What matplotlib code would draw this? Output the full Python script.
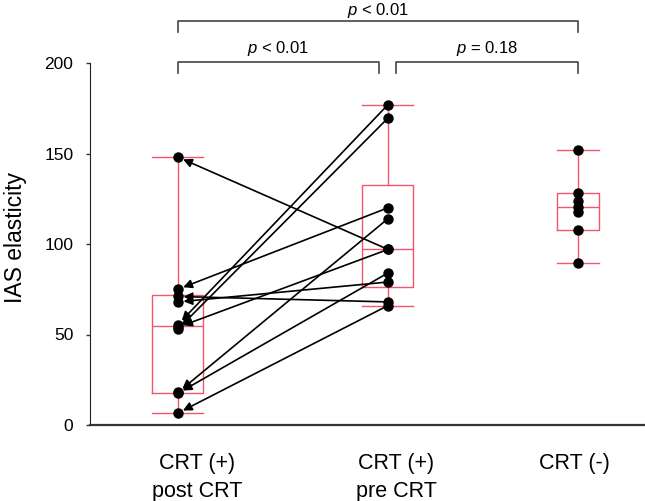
import numpy as np
import matplotlib
matplotlib.use('Agg')
import matplotlib.pyplot as plt

plt.rcParams['font.family'] = ['Liberation Sans', 'DejaVu Sans']
plt.rcParams['mathtext.fontset'] = 'custom'
plt.rcParams['mathtext.rm'] = 'Liberation Sans'
plt.rcParams['mathtext.it'] = 'Liberation Sans:italic'

# data
categories = ['CRT (+)\npost CRT', 'CRT (+)\npre CRT', 'CRT (-)']
pre_crt = [177, 169.6, 120, 114, 97, 97, 84, 79, 68, 66]
post_crt = [55.5, 53, 75, 18, 148, 54, 17.5, 68, 71, 6.6]
crt_neg = [152, 128, 124, 120.5, 117.5, 108, 89.5]
p_labels = ['$p$ < 0.01', '$p$ = 0.18', '$p$ < 0.01']

groups = [post_crt, pre_crt, crt_neg]
positions = [1.0, 2.0, 2.905]
label_pos = [1.09, 2.038, 2.89]
widths = [0.243, 0.243, 0.2]
box_col = '#f2566e'

fig = plt.figure(figsize=(6.45, 5.01), dpi=100)
ax = fig.add_axes([90 / 645, 76 / 501, 555 / 645, 362 / 501])

# box stats (quartiles like the original software)
stats = []
for g in groups:
    q1, med, q3 = np.percentile(g, [25, 50, 75], method='weibull')
    stats.append(dict(med=med, q1=q1, q3=q3, whislo=min(g), whishi=max(g), fliers=[]))

lp = dict(color=box_col, linewidth=1)
ax.bxp(stats, positions=positions, widths=widths, capwidths=widths,
       showfliers=False, boxprops=lp, whiskerprops=lp, capprops=lp,
       medianprops=lp, manage_ticks=False)

# paired arrows pre -> post
for a, b in zip(pre_crt, post_crt):
    ax.annotate('', xy=(positions[0], b), xytext=(positions[1], a),
                arrowprops=dict(arrowstyle='-|>', color='black', lw=1.2,
                                shrinkA=0, shrinkB=4, mutation_scale=13))

for pos, g in zip(positions, groups):
    ax.plot(np.full(len(g), pos), g, 'o', color='black', ms=6.5, zorder=5)

ax.set_xlim(0.581, 3.224)
ax.set_ylim(0, 200)
ax.set_yticks([0, 50, 100, 150, 200])
ax.tick_params(axis='y', labelsize=12.5, length=3, width=1, pad=9, color='#333333')
ax.set_xticks(label_pos, categories, fontsize=15.5, linespacing=1.45)
ax.tick_params(axis='x', length=0, pad=20)
for s in ['top', 'right']:
    ax.spines[s].set_visible(False)
ax.spines['left'].set_color('#222222')
ax.spines['bottom'].set_color('#333333')
ax.spines['bottom'].set_linewidth(1.6)
fig.text(16 / 645, 1 - 237 / 501, 'IAS elasticity', rotation=90,
         ha='center', va='center', fontsize=16.5)

# significance brackets
brackets = [(positions[0], positions[1] - 0.043, 200.3, 194.5, 208),
            (positions[1] + 0.038, positions[2], 200.3, 194.5, 208),
            (positions[0], positions[2], 223.2, 217, 228.8)]
for (x0, x1, top, low, ty), txt in zip(brackets, p_labels):
    ax.plot([x0, x0, x1, x1], [low, top, top, low], color='#444444', lw=1.2,
            clip_on=False)
    ax.text((x0 + x1) / 2, ty, txt, ha='center', va='center',
            fontsize=12, clip_on=False)

fig.savefig('out.png', dpi=100)
